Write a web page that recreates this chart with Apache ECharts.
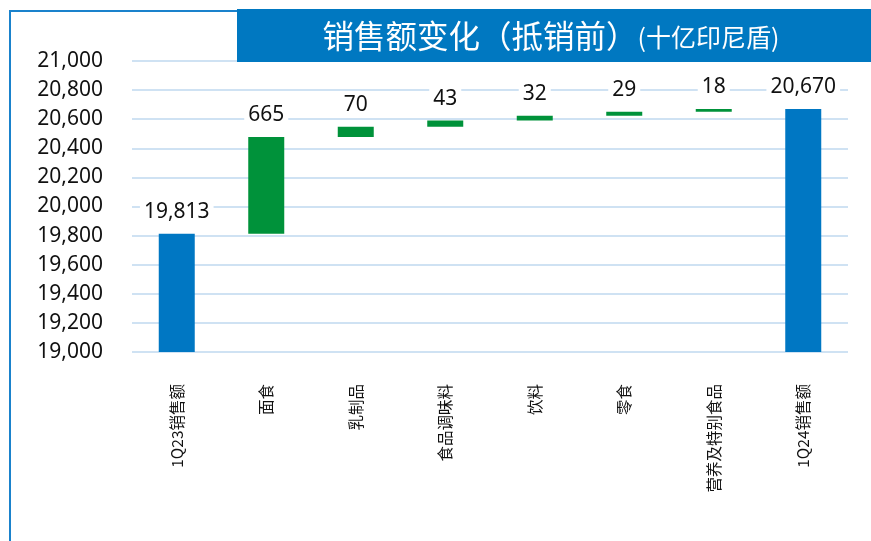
<!DOCTYPE html>
<html>
<head>
<meta charset="utf-8">
<script src="https://cdn.jsdelivr.net/npm/echarts@6/dist/echarts.min.js"></script>
<style>
  html, body { margin: 0; padding: 0; background: #fff; }
  #chart { width: 871px; height: 541px; }
</style>
</head>
<body>
<div id="chart"></div>
<script>
// 销售额变化瀑布图
var categories = ['1Q23销售额', '面食', '乳制品', '食品调味料', '饮料', '零食', '营养及特别食品', '1Q24销售额'];
var values = [19813, 665, 70, 43, 32, 29, 18, 20670];
var isTotal = [true, false, false, false, false, false, false, true];
var yTicks = { min: 19000, max: 21000, interval: 200 };

var BLUE = '#0077c3';
var GREEN = '#00923a';

// 透明底座 + 可见部分
var baseData = [];
var showData = [];
var running = 0;
for (var i = 0; i < values.length; i++) {
    if (isTotal[i]) {
        baseData.push(0);
        showData.push({ value: values[i], itemStyle: { color: BLUE } });
        running = values[i];
    } else {
        baseData.push(running);
        showData.push({ value: values[i], itemStyle: { color: GREEN } });
        running += values[i];
    }
}

var myChart = echarts.init(document.getElementById('chart'));
var option = {
    animation: false,
    graphic: [
        // 左边和上边的蓝色边框
        { type: 'line', shape: { x1: 10, y1: 11, x2: 10, y2: 541 }, style: { stroke: '#1a82cc', lineWidth: 2 }, z: 10 },
        { type: 'line', shape: { x1: 9, y1: 11, x2: 237, y2: 11 }, style: { stroke: '#1a82cc', lineWidth: 2 }, z: 10 },
        // 标题条
        { type: 'rect', shape: { x: 237, y: 9, width: 634, height: 53 }, style: { fill: '#0078c1' }, z: 10 },
        {
            type: 'text', x: 551, y: 36, z: 11,
            style: {
                text: '{a|销售额变化（抵销前）}{b|(十亿印尼盾)}',
                align: 'center', verticalAlign: 'middle',
                rich: {
                    a: { fontSize: 31.5, fill: '#fff', fontFamily: 'Noto Sans CJK SC' },
                    b: { fontSize: 25, fill: '#fff', fontFamily: 'Noto Sans CJK SC', padding: [3, 0, 0, 0] }
                }
            }
        }
    ],
    grid: { left: 132, right: 23, top: 61, bottom: 189 },
    xAxis: {
        type: 'category',
        data: categories,
        axisLine: { show: false },
        axisTick: { show: false },
        axisLabel: {
            rotate: 90,
            margin: 32,
            interval: 0,
            color: '#111',
            fontSize: 15.5,
            fontFamily: 'Noto Sans CJK SC'
        }
    },
    yAxis: {
        type: 'value',
        min: yTicks.min,
        max: yTicks.max,
        interval: yTicks.interval,
        axisLine: { show: false },
        axisTick: { show: false },
        splitLine: { lineStyle: { color: '#cfe2f3', width: 2 } },
        axisLabel: {
            margin: 29,
            color: '#111',
            fontSize: 21,
            fontFamily: 'Noto Sans',
            formatter: function (v) { return v.toLocaleString('en-US'); }
        }
    },
    series: [
        {
            type: 'bar',
            stack: 'wf',
            data: baseData,
            barWidth: 36,
            itemStyle: { color: 'transparent' },
            silent: true
        },
        {
            type: 'bar',
            stack: 'wf',
            data: showData,
            barWidth: 36,
            label: {
                show: true,
                position: 'top',
                distance: 11,
                color: '#111',
                fontSize: 21,
                fontFamily: 'Noto Sans',
                backgroundColor: '#fff',
                padding: [0, 4],
                formatter: function (p) { return p.value.toLocaleString('en-US'); }
            }
        }
    ]
};
myChart.setOption(option);
window.addEventListener('resize', function () {
    myChart.resize();
});
</script>
</body>
</html>
